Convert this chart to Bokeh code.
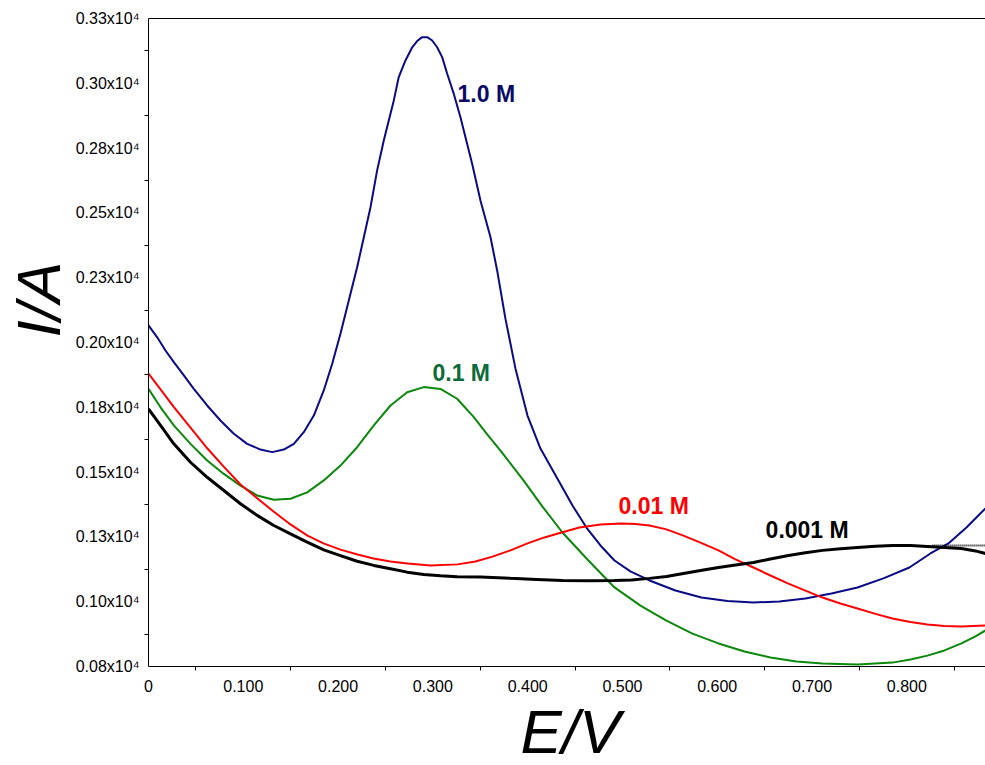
from bokeh.plotting import figure
from bokeh.models import Range1d, FixedTicker, LinearAxis, Label, Title
from bokeh.embed import file_html
from bokeh.resources import INLINE

# ---------------- data (E in V, I in A) ----------------
E_10 = [0.0000, 0.0092, 0.0179, 0.0267, 0.0373, 0.0478, 0.0619, 0.0759, 0.0900, 0.1041,
        0.1181, 0.1305, 0.1427, 0.1533, 0.1638, 0.1744, 0.1849, 0.1938, 0.2025, 0.2113,
        0.2201, 0.2342, 0.2412, 0.2482, 0.2588, 0.2640, 0.2711, 0.2782, 0.2834, 0.2887,
        0.2940, 0.2993, 0.3045, 0.3098, 0.3151, 0.3221, 0.3291, 0.3344, 0.3415, 0.3502,
        0.3608, 0.3678, 0.3766, 0.3871, 0.3998, 0.4135, 0.4325, 0.4473, 0.4620, 0.4768,
        0.4916, 0.5084, 0.5285, 0.5559, 0.5833, 0.6108, 0.6382, 0.6656, 0.6930, 0.7205,
        0.7479, 0.7753, 0.8027, 0.8249, 0.8439, 0.8629, 0.8829]
I_10 = [2116, 2070, 2019, 1974, 1923, 1871, 1807, 1749, 1698, 1659,
        1637, 1627, 1637, 1659, 1704, 1768, 1865, 1968, 2084, 2212,
        2340, 2572, 2714, 2829, 2984, 3074, 3138, 3189, 3213, 3228,
        3228, 3215, 3189, 3151, 3087, 3009, 2919, 2842, 2739, 2598,
        2456, 2328, 2141, 1950, 1768, 1641, 1518, 1421, 1336, 1267,
        1209, 1167, 1132, 1093, 1066, 1053, 1047, 1051, 1062, 1082,
        1105, 1140, 1182, 1236, 1275, 1336, 1410]

E_01 = [0.0000, 0.0127, 0.0267, 0.0443, 0.0619, 0.0795, 0.0970, 0.1146, 0.1322, 0.1498,
        0.1674, 0.1849, 0.2025, 0.2201, 0.2377, 0.2553, 0.2729, 0.2904, 0.3080, 0.3256,
        0.3432, 0.3565, 0.3713, 0.3956, 0.4156, 0.4367, 0.4641, 0.4916, 0.5190, 0.5464,
        0.5738, 0.6013, 0.6287, 0.6561, 0.6835, 0.7110, 0.7479, 0.7848, 0.8038, 0.8217,
        0.8397, 0.8576, 0.8724, 0.8829]
I_01 = [1871, 1800, 1730, 1659, 1595, 1543, 1498, 1460, 1443, 1447,
        1472, 1518, 1575, 1646, 1730, 1807, 1858, 1878, 1871, 1833,
        1762, 1699, 1633, 1518, 1417, 1317, 1209, 1105, 1035, 977,
        927, 889, 858, 835, 819, 812, 808, 815, 827, 842,
        862, 889, 916, 939]

E_001 = [0.0000, 0.0127, 0.0264, 0.0443, 0.0622, 0.0791, 0.0970, 0.1150, 0.1319, 0.1498,
         0.1677, 0.1846, 0.2025, 0.2205, 0.2373, 0.2553, 0.2732, 0.2975, 0.3259, 0.3449,
         0.3629, 0.3819, 0.3998, 0.4177, 0.4357, 0.4546, 0.4768, 0.4989, 0.5137, 0.5285,
         0.5464, 0.5643, 0.5823, 0.6013, 0.6192, 0.6382, 0.6561, 0.6751, 0.6930, 0.7110,
         0.7300, 0.7479, 0.7669, 0.7848, 0.8038, 0.8217, 0.8397, 0.8576, 0.8829]
I_001 = [1930, 1869, 1803, 1722, 1641, 1572, 1502, 1448, 1398, 1348,
         1305, 1275, 1251, 1232, 1217, 1205, 1197, 1190, 1194, 1205,
         1224, 1248, 1275, 1298, 1317, 1336, 1348, 1352, 1350, 1344,
         1329, 1305, 1278, 1248, 1213, 1182, 1151, 1120, 1093, 1066,
         1043, 1024, 1003, 985, 972, 962, 956, 954, 958]

E_0001 = [0.0000, 0.0127, 0.0267, 0.0443, 0.0619, 0.0795, 0.0970, 0.1146, 0.1322, 0.1498,
          0.1674, 0.1849, 0.2025, 0.2201, 0.2377, 0.2553, 0.2729, 0.2904, 0.3080, 0.3256,
          0.3502, 0.3819, 0.4093, 0.4367, 0.4641, 0.4916, 0.5095, 0.5285, 0.5464, 0.5643,
          0.5823, 0.6013, 0.6192, 0.6382, 0.6561, 0.6751, 0.6930, 0.7110, 0.7300, 0.7479,
          0.7669, 0.7848, 0.8038, 0.8217, 0.8397, 0.8576, 0.8724, 0.8829]
I_0001 = [1794, 1730, 1659, 1588, 1530, 1479, 1428, 1383, 1344, 1312,
          1280, 1250, 1228, 1206, 1190, 1177, 1164, 1155, 1150, 1146,
          1145, 1140, 1136, 1132, 1131, 1132, 1134, 1140, 1147, 1159,
          1170, 1182, 1192, 1201, 1215, 1228, 1239, 1248, 1254, 1259,
          1264, 1267, 1267, 1263, 1259, 1255, 1246, 1236]

E_dot = [0.827, 0.883]
I_dot = [1267, 1267]

x_ticks = [0, 0.1, 0.2, 0.3, 0.4, 0.5, 0.6, 0.7, 0.8]
x_tick_labels = ["0", "0.100", "0.200", "0.300", "0.400", "0.500", "0.600", "0.700", "0.800"]
x_minor = [0.05, 0.15, 0.25, 0.35, 0.45, 0.55, 0.65, 0.75, 0.85]

y_ticks = [800, 1050, 1300, 1550, 1800, 2050, 2300, 2550, 2800, 3050, 3300]
y_tick_labels = ["0.08x10\u2074", "0.10x10\u2074", "0.13x10\u2074", "0.15x10\u2074",
                 "0.18x10\u2074", "0.20x10\u2074", "0.23x10\u2074", "0.25x10\u2074",
                 "0.28x10\u2074", "0.30x10\u2074", "0.33x10\u2074"]
y_minor = [925, 1175, 1425, 1675, 1925, 2175, 2425, 2675, 2925, 3175]

series_labels = ["1.0 M", "0.1 M", "0.01 M", "0.001 M"]

# ---------------- figure ----------------
FONT = "Liberation Sans"
p = figure(width=985, height=765, output_backend="svg", toolbar_location=None,
           x_range=Range1d(0, 0.883), y_range=Range1d(800, 3300),
           min_border_left=148, min_border_right=0, min_border_top=18,
           min_border_bottom=99)
p.xgrid.visible = False
p.ygrid.visible = False
p.outline_line_color = None
p.background_fill_color = "white"
p.border_fill_color = "white"

for ax in (p.xaxis[0], p.yaxis[0]):
    ax.axis_line_color = "black"
    ax.axis_line_width = 1
    ax.major_tick_out = 0
    ax.major_tick_in = 0
    ax.minor_tick_out = 4
    ax.minor_tick_in = 0
    ax.minor_tick_line_color = "black"
    ax.major_label_text_font = FONT
    ax.major_label_text_font_size = "16px"
    ax.major_label_text_color = "black"

p.xaxis[0].ticker = FixedTicker(ticks=x_ticks, minor_ticks=x_minor)
p.xaxis[0].major_label_overrides = dict(zip(x_ticks, x_tick_labels))
p.xaxis[0].major_label_standoff = 9
p.yaxis[0].ticker = FixedTicker(ticks=y_ticks, minor_ticks=y_minor)
p.yaxis[0].major_label_overrides = dict(zip(y_ticks, y_tick_labels))
p.yaxis[0].major_label_standoff = 5

top_axis = LinearAxis(ticker=FixedTicker(ticks=[]), major_label_text_font_size="0px",
                      major_tick_out=0, major_tick_in=0, minor_tick_out=0, minor_tick_in=0,
                      axis_line_color="black", major_label_standoff=0)
p.add_layout(top_axis, "above")

# ---------------- axis titles ----------------
p.add_layout(Title(text="E/V", text_font=FONT, text_font_size="62px", text_color="black",
                   text_font_style="italic", align="left", offset=372,
                   vertical_align="bottom", standoff=0), "below")
p.add_layout(Title(text="I/A", text_font=FONT, text_font_size="62px", text_color="black",
                   text_font_style="italic", align="left", offset=329,
                   vertical_align="bottom", standoff=0), "left")

# ---------------- curves ----------------
p.line(E_10, I_10, line_color="#0a0a86", line_width=2)
p.line(E_01, I_01, line_color="#0a880a", line_width=2)
p.line(E_001, I_001, line_color="#ff0000", line_width=2)
p.line(E_0001, I_0001, line_color="black", line_width=3)
p.line(E_dot, I_dot, line_color="black", line_width=2, line_dash="1 1")

# ---------------- curve labels ----------------
lab_pos = [(0.326, 3007), (0.2996, 1934), (0.4958, 1421), (0.651, 1325)]
lab_col = ["#0a0a66", "#0b6b3a", "#ff0000", "black"]
for t, (lx, ly), c in zip(series_labels, lab_pos, lab_col):
    p.add_layout(Label(x=lx, y=ly, text=t, text_color=c, text_font=FONT,
                       text_font_size="23px", text_font_style="bold",
                       text_baseline="alphabetic", text_align="left"))

open("out.html", "w").write(file_html(p, INLINE))
